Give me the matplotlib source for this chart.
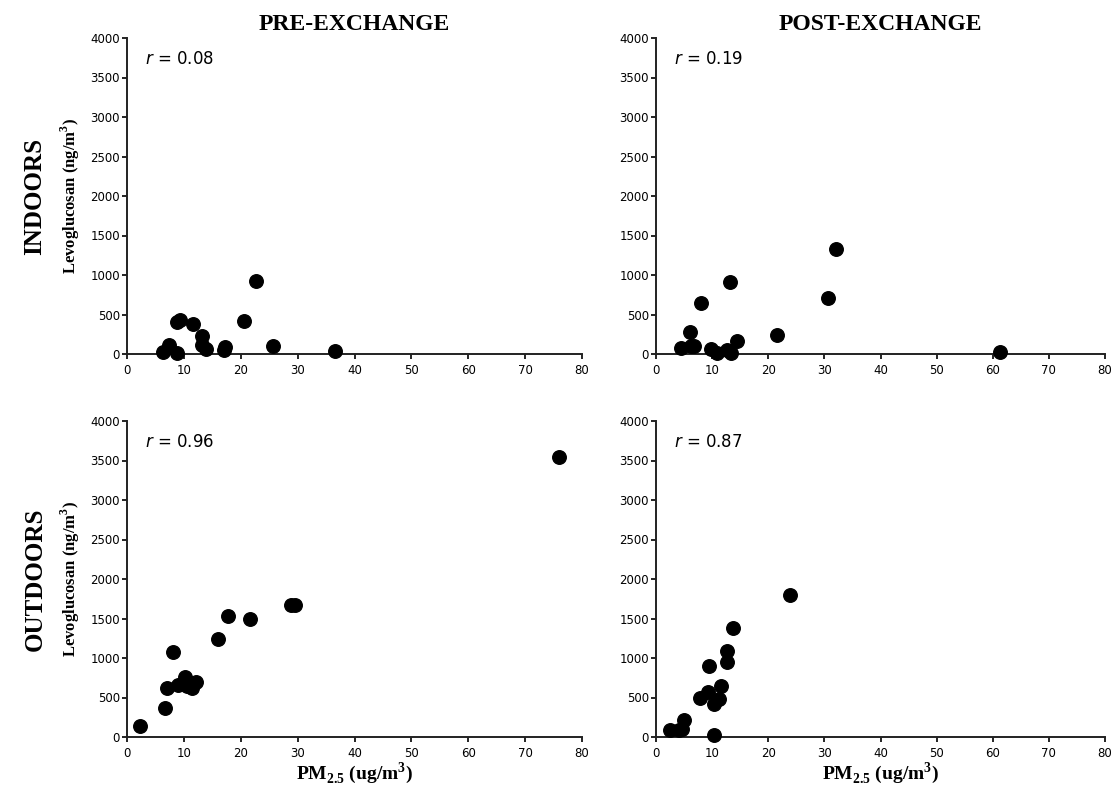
import matplotlib.pyplot as plt
import numpy as np

plt.rcParams['mathtext.fontset'] = 'custom'
plt.rcParams['mathtext.bf'] = 'Liberation Serif:bold'
plt.rcParams['mathtext.rm'] = 'Liberation Serif'
plt.rcParams['mathtext.it'] = 'DejaVu Sans:italic'

# PM2.5 (ug/m3) vs levoglucosan (ng/m3)
pre_in_pm = [6.3, 7.3, 8.8, 8.8, 9.3, 11.6, 13.1, 13.1, 13.9, 17.0, 17.3, 20.6, 22.7, 25.7, 36.5]
pre_in_lev = [20, 115, 10, 409, 435, 384, 224, 118, 63, 55, 93, 414, 928, 101, 38]

post_in_pm = [4.4, 6.1, 6.3, 6.8, 8.0, 9.8, 10.9, 12.6, 13.2, 13.3, 14.4, 21.5, 30.6, 32.0, 61.3]
post_in_lev = [72, 277, 106, 106, 651, 64, 13, 51, 906, 9, 162, 243, 711, 1332, 30]

pre_out_pm = [2.3, 6.7, 7.1, 8.0, 9.0, 10.2, 10.5, 11.5, 12.2, 16.0, 17.8, 21.6, 28.8, 29.6, 76.0]
pre_out_lev = [139, 371, 624, 1076, 658, 759, 646, 624, 700, 1245, 1527, 1498, 1667, 1667, 3550]

post_out_pm = [2.5, 4.1, 4.6, 5.0, 7.8, 9.3, 9.4, 10.4, 10.4, 11.3, 11.5, 12.6, 12.7, 13.7, 23.8]
post_out_lev = [85, 85, 106, 213, 498, 566, 902, 21, 417, 481, 651, 949, 1085, 1374, 1796]

r_values = ['0.08', '0.19', '0.96', '0.87']
col_titles = ['PRE-EXCHANGE', 'POST-EXCHANGE']
row_titles = ['INDOORS', 'OUTDOORS']

W, H = 1120, 797
fig = plt.figure(figsize=(W / 100, H / 100), dpi=100)

# axes boxes in pixels: left, right, top, bottom
cols = [(127, 582), (656, 1105)]
rows = [(38, 354), (421, 737)]

data = [[(pre_in_pm, pre_in_lev), (post_in_pm, post_in_lev)],
        [(pre_out_pm, pre_out_lev), (post_out_pm, post_out_lev)]]

serif = 'Liberation Serif'

for i, (top, bot) in enumerate(rows):
    for j, (lft, rgt) in enumerate(cols):
        ax = fig.add_axes([lft / W, 1 - bot / H, (rgt - lft) / W, (bot - top) / H])
        x, y = data[i][j]
        ax.scatter(x, y, s=95, color='black', clip_on=False, zorder=3)
        ax.set_xlim(0, 80)
        ax.set_ylim(0, 4000)
        ax.set_xticks(np.arange(0, 81, 10))
        ax.set_yticks(np.arange(0, 4001, 500))
        for s in ['top', 'right']:
            ax.spines[s].set_visible(False)
        for s in ['left', 'bottom']:
            ax.spines[s].set_linewidth(1.4)
            ax.spines[s].set_color('#222222')
        ax.tick_params(direction='out', length=3.5, width=1.2, labelsize=8.5)
        ax.tick_params(axis='y', pad=1.5)
        ax.tick_params(axis='x', pad=4)
        ax.text(0.04, 0.935, r'$\mathit{r}$ = ' + r_values[i * 2 + j],
                transform=ax.transAxes, fontsize=12, va='center')
        if j == 0:
            ax.set_ylabel(r'Levoglucosan (ng/m$^{\mathbf{3}}$)', family=serif,
                          fontweight='bold', fontsize=12, labelpad=6)
        if i == 0:
            ax.set_title(col_titles[j], family=serif, fontweight='bold',
                         fontsize=17, pad=5.5)
        if i == 1:
            ax.set_xlabel(r'PM$_{\mathbf{2.5}}$ (ug/m$^{\mathbf{3}}$)', family=serif,
                          fontweight='bold', fontsize=14, labelpad=0)

for i, (top, bot) in enumerate(rows):
    fig.text(35 / W, 1 - (top + bot) / 2 / H, row_titles[i], family=serif,
             fontweight='bold', fontsize=18, rotation=90, ha='center', va='center')

fig.savefig('out.png', dpi=100)
